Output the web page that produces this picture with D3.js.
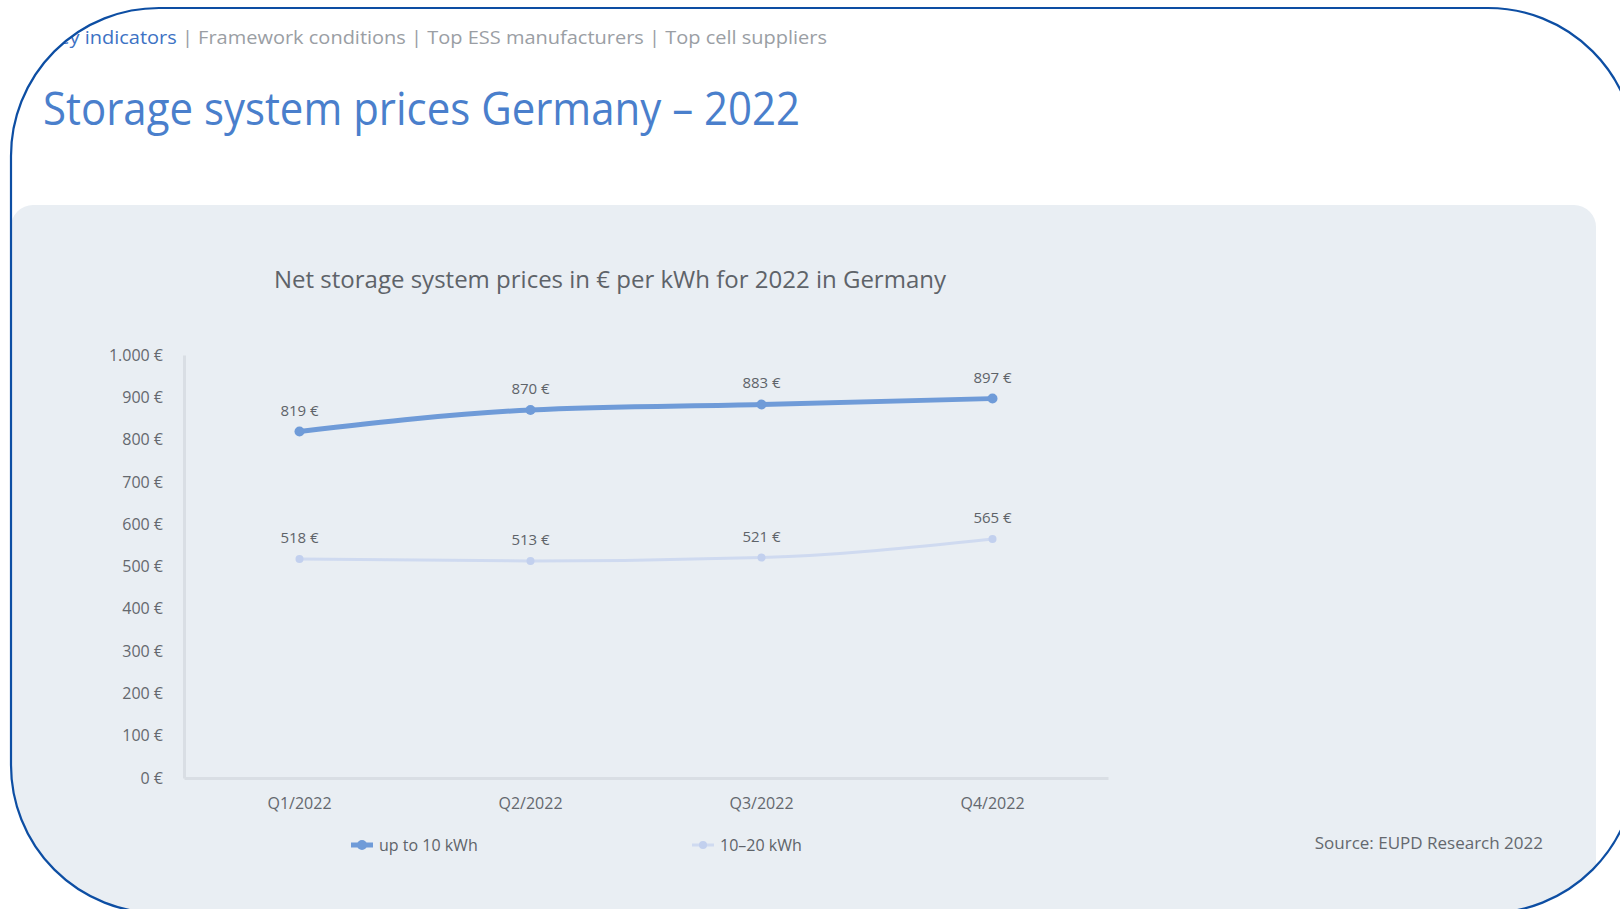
<!DOCTYPE html>
<html><head><meta charset="utf-8">
<script src="https://cdn.jsdelivr.net/npm/d3@7"></script>
<style>
html,body{margin:0;padding:0;background:#fff;overflow:hidden}
svg{display:block;font-family:"Open Sans","Noto Sans",sans-serif}
</style></head>
<body><svg id="c" width="1620" height="909"></svg>
<script>
const categories = ["Q1/2022","Q2/2022","Q3/2022","Q4/2022"];
const seriesNames = ["up to 10 kWh","10–20 kWh"];
const seriesSmall = [819, 870, 883, 897];
const seriesLarge = [518, 513, 521, 565];
const yTicks = [0,100,200,300,400,500,600,700,800,900,1000];
const breadcrumbActive = "Key indicators";
const breadcrumbRest = " | Framework conditions | Top ESS manufacturers | Top cell suppliers";
const pageTitle = "Storage system prices Germany – 2022";
const chartTitle = "Net storage system prices in € per kWh for 2022 in Germany";
const sourceText = "Source: EUPD Research 2022";

const svg = d3.select("#c");
const W = 1620, H = 909;
const defs = svg.append("defs");
defs.append("clipPath").attr("id","frame").append("rect")
  .attr("x",11).attr("y",8).attr("width",1625).attr("height",905).attr("rx",148).attr("ry",148);

const g = svg.append("g").attr("clip-path","url(#frame)");
g.append("rect").attr("x",0).attr("y",0).attr("width",W).attr("height",H).attr("fill","#fff");
// gray panel
g.append("rect").attr("x",11).attr("y",205).attr("width",1585).attr("height",720).attr("rx",22).attr("fill","#e9eef3");

// breadcrumb
const bc = g.append("text").attr("x",46).attr("y",44).attr("font-size",19);
bc.append("tspan").attr("fill","#3d72c4").text(breadcrumbActive);
bc.append("tspan").attr("fill","#9a9ea4").text(breadcrumbRest);
bc.attr("textLength",781).attr("lengthAdjust","spacingAndGlyphs");

// title
g.append("text").attr("x",43).attr("y",125).attr("font-size",46).attr("fill","#4a7fcc")
  .attr("textLength",757).attr("lengthAdjust","spacingAndGlyphs").text(pageTitle);

// chart title
g.append("text").attr("x",274).attr("y",288).attr("font-size",24).attr("fill","#5e6369")
  .attr("textLength",672).attr("lengthAdjust","spacingAndGlyphs").text(chartTitle);

const x = d3.scaleBand().domain(categories).range([184,1108]);
const y = d3.scaleLinear().domain([0,1000]).range([778,355]);
const fmt = v => d3.format(",")(v).replace(/,/g,".") + " €";

// y axis
const ya = g.append("g").attr("transform","translate(184,0)")
  .call(d3.axisLeft(y).tickValues(yTicks).tickSize(0).tickPadding(21).tickFormat(fmt));
ya.select(".domain").attr("stroke","#d9dee4").attr("stroke-width",3);
ya.selectAll("text").attr("font-size",16).attr("fill","#64686e").attr("font-family","Open Sans");

// x axis
const xa = g.append("g").attr("transform","translate(0,778)")
  .call(d3.axisBottom(x).tickSize(0).tickPadding(20));
xa.select(".domain").attr("stroke","#d9dee4").attr("stroke-width",3);
xa.selectAll("text").attr("font-size",16).attr("fill","#64686e").attr("font-family","Open Sans");

const cx = c => x(c) + x.bandwidth()/2;
const series = [
  {name:seriesNames[0], vals:seriesSmall, color:"#6f9bd8", w:5, r:5, lc:"#6f9bd8"},
  {name:seriesNames[1], vals:seriesLarge, color:"#cfdaf0", w:3, r:4, lc:"#c2d0ee"}
];
const line = d3.line().x(d=>cx(d.c)).y(d=>y(d.v)).curve(d3.curveMonotoneX);
series.forEach(s=>{
  const pts = categories.map((c,i)=>({c, v:s.vals[i]}));
  g.append("path").datum(pts).attr("d",line).attr("fill","none")
    .attr("stroke",s.color).attr("stroke-width",s.w);
  g.selectAll(null).data(pts).enter().append("circle")
    .attr("cx",d=>cx(d.c)).attr("cy",d=>y(d.v)).attr("r",s.r).attr("fill",s.lc);
  g.selectAll(null).data(pts).enter().append("text")
    .attr("x",d=>cx(d.c)).attr("y",d=>y(d.v)-16).attr("text-anchor","middle")
    .attr("font-size",15).attr("fill","#5e6369").text(d=>fmt(d.v));
});

// legend
const legX = [351, 692];
series.forEach((s,i)=>{
  const lg = g.append("g").attr("transform",`translate(${legX[i]},845)`);
  lg.append("line").attr("x1",0).attr("x2",22).attr("y1",0).attr("y2",0)
    .attr("stroke",s.color).attr("stroke-width",s.w);
  lg.append("circle").attr("cx",11).attr("cy",0).attr("r",s.r).attr("fill",s.lc);
  lg.append("text").attr("x",28).attr("y",6).attr("font-size",16).attr("fill","#5e6369").text(s.name);
});

// source
g.append("text").attr("x",1543).attr("y",849).attr("text-anchor","end").attr("font-size",17)
  .attr("fill","#64686e").text(sourceText);

// frame border
svg.append("rect").attr("x",11).attr("y",8).attr("width",1625).attr("height",905)
  .attr("rx",148).attr("ry",148).attr("fill","none").attr("stroke","#0d4ea3").attr("stroke-width",2.2);
</script></body></html>
